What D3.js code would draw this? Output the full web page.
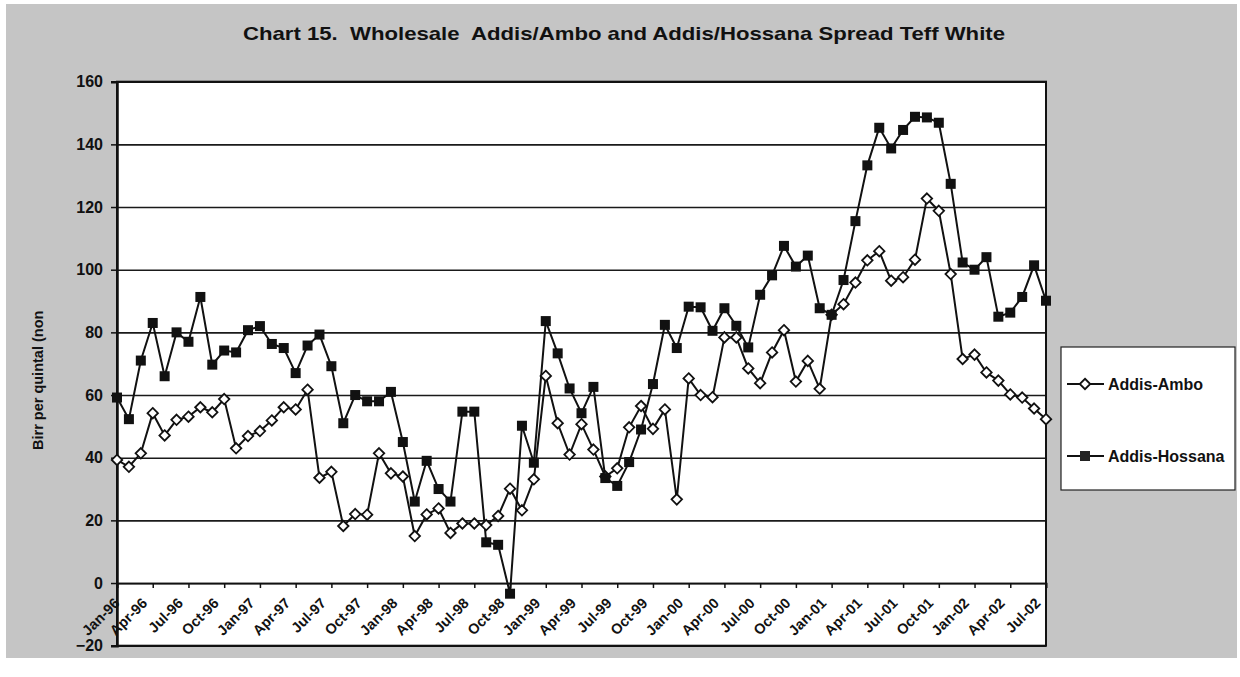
<!DOCTYPE html>
<html>
<head>
<meta charset="utf-8">
<script src="https://cdn.jsdelivr.net/npm/d3@7"></script>
<style>
  html, body { margin: 0; padding: 0; background: #ffffff; }
  svg { display: block; font-family: "Liberation Sans", Arial, sans-serif; }
</style>
</head>
<body>
<svg id="chart" width="1240" height="677"></svg>
<script>
// Monthly spread, Jan-96 .. Jul-02 (Birr per quintal)
const months = d3.utcMonth.range(new Date(Date.UTC(1996, 0, 1)), new Date(Date.UTC(2002, 7, 1)));

const addisAmbo = [
  39.3, 37.1, 41.4, 54.2, 47.1, 52.1, 53.1, 56.1, 54.5, 58.7, 43.0, 46.9,
  48.5, 51.9, 56.1, 55.4, 61.7, 33.6, 35.5, 18.2, 22.0, 21.8, 41.4, 35.0,
  34.0, 15.0, 21.9, 23.8, 16.0, 19.0, 19.0, 18.5, 21.4, 30.1, 23.2, 33.1,
  66.1, 51.0, 41.0, 50.7, 42.6, 34.0, 36.6, 49.7, 56.5, 49.2, 55.4, 26.7,
  65.3, 60.0, 59.3, 78.4, 78.4, 68.5, 63.8, 73.6, 80.7, 64.3, 70.9, 62.0,
  85.6, 89.0, 95.9, 103.0, 105.9, 96.5, 97.6, 103.2, 122.7, 118.8, 98.6, 71.5,
  72.9, 67.2, 64.6, 60.2, 59.2, 55.7, 52.3
];

const addisHossana = [
  59.2, 52.3, 71.0, 83.0, 66.0, 80.0, 77.0, 91.3, 69.7, 74.2, 73.6, 80.7,
  82.0, 76.3, 75.0, 67.0, 75.8, 79.3, 69.2, 51.0, 60.0, 58.0, 58.0, 61.0,
  45.0, 26.0, 39.0, 30.0, 26.0, 54.7, 54.7, 13.0, 12.2, -3.4, 50.2, 38.4,
  83.6, 73.3, 62.1, 54.2, 62.6, 33.5, 31.0, 38.6, 49.0, 63.5, 82.4, 75.0,
  88.2, 88.0, 80.5, 87.7, 82.1, 75.2, 92.0, 98.2, 107.6, 101.0, 104.5, 87.7,
  85.6, 96.7, 115.5, 133.3, 145.3, 138.7, 144.6, 148.8, 148.6, 146.9, 127.4, 102.3,
  100.0, 104.0, 85.0, 86.3, 91.3, 101.4, 90.1
];

const xTickLabels = [
  "Jan-96", "Apr-96", "Jul-96", "Oct-96", "Jan-97", "Apr-97", "Jul-97", "Oct-97",
  "Jan-98", "Apr-98", "Jul-98", "Oct-98", "Jan-99", "Apr-99", "Jul-99", "Oct-99",
  "Jan-00", "Apr-00", "Jul-00", "Oct-00", "Jan-01", "Apr-01", "Jul-01", "Oct-01",
  "Jan-02", "Apr-02", "Jul-02"
];

const yTicks = [-20, 0, 20, 40, 60, 80, 100, 120, 140, 160];

const seriesNames = ["Addis-Ambo", "Addis-Hossana"];

const chartTitle = "Chart 15.  Wholesale  Addis/Ambo and Addis/Hossana Spread Teff White";
const yTitle = "Birr per quintal (non";

// ---- layout ----
const svg = d3.select("#chart");
const plot = { left: 117, right: 1046, top: 81.7, bottom: 645.7 };

// even spacing per month, as on a monthly date axis
const xi = d3.scaleLinear().domain([0, months.length - 1]).range([plot.left, plot.right]);
const y = d3.scaleLinear().domain([-20, 160]).range([plot.bottom, plot.top]);

// outer grey panel
svg.append("rect")
  .attr("x", 6).attr("y", 4).attr("width", 1231).attr("height", 654)
  .attr("fill", "#c5c5c5");

// title
svg.append("text")
  .attr("x", 243).attr("y", 40)
  .attr("text-anchor", "start")
  .attr("font-size", 18.5).attr("font-weight", "bold")
  .attr("textLength", 762).attr("lengthAdjust", "spacingAndGlyphs")
  .style("white-space", "pre")
  .attr("fill", "#111")
  .text(chartTitle);

// plot background
svg.append("rect")
  .attr("x", plot.left).attr("y", plot.top)
  .attr("width", plot.right - plot.left).attr("height", plot.bottom - plot.top)
  .attr("fill", "#ffffff");

// horizontal gridlines
svg.append("g")
  .attr("transform", `translate(${plot.left},0)`)
  .call(d3.axisLeft(y).tickValues(yTicks).tickSize(-(plot.right - plot.left)).tickFormat(""))
  .call(g => g.select(".domain").remove())
  .call(g => g.selectAll("line").attr("stroke", "#1a1a1a").attr("stroke-width", 1.6));

// plot frame
svg.append("rect")
  .attr("x", plot.left).attr("y", plot.top)
  .attr("width", plot.right - plot.left).attr("height", plot.bottom - plot.top)
  .attr("fill", "none").attr("stroke", "#111").attr("stroke-width", 2);

// y axis
const yAxis = svg.append("g")
  .attr("transform", `translate(${plot.left},0)`)
  .call(d3.axisLeft(y).tickValues(yTicks).tickSize(6).tickPadding(8).tickFormat(d3.format("d")));
yAxis.select(".domain").attr("stroke", "#111").attr("stroke-width", 2.5);
yAxis.selectAll("line").attr("stroke", "#111").attr("stroke-width", 1.5);
yAxis.selectAll("text")
  .attr("font-size", 16).attr("font-weight", "bold").attr("fill", "#111")
  .attr("font-family", "'Liberation Sans', Arial, sans-serif");

// x axis on the zero line
const quarterIdx = xTickLabels.map((_, k) => k * 3);
const xAxis = svg.append("g")
  .attr("transform", `translate(0,${y(0)})`)
  .call(d3.axisBottom(xi).tickValues(quarterIdx).tickSize(5).tickFormat((d, k) => xTickLabels[k]));
xAxis.select(".domain").attr("stroke", "#111").attr("stroke-width", 1.8);
xAxis.selectAll("line").attr("stroke", "#111").attr("stroke-width", 1.5);
xAxis.selectAll("text")
  .attr("font-size", 14.5).attr("font-weight", "bold").attr("fill", "#111")
  .attr("font-family", "'Liberation Sans', Arial, sans-serif")
  .attr("text-anchor", "end")
  .attr("dy", null)
  .attr("y", 0)
  .attr("transform", (d, k) => `translate(${k === 0 ? 3 : -5},21) rotate(-45)`);

// y axis title
svg.append("text")
  .attr("transform", "translate(43,450) rotate(-90)")
  .attr("text-anchor", "start")
  .attr("font-size", 14.5).attr("font-weight", "bold").attr("fill", "#111")
  .text(yTitle);

// series lines
const line = d3.line().x((d, i) => xi(i)).y(d => y(d));

svg.append("path")
  .datum(addisAmbo)
  .attr("d", line)
  .attr("fill", "none").attr("stroke", "#111").attr("stroke-width", 2);

svg.append("path")
  .datum(addisHossana)
  .attr("d", line)
  .attr("fill", "none").attr("stroke", "#111").attr("stroke-width", 2);

// markers
const diamond = d3.symbol().type(d3.symbolDiamond2).size(70);
svg.append("g").selectAll("path")
  .data(addisAmbo)
  .join("path")
  .attr("d", diamond)
  .attr("transform", (d, i) => `translate(${xi(i)},${y(d)})`)
  .attr("fill", "#fff").attr("stroke", "#111").attr("stroke-width", 1.8);

svg.append("g").selectAll("rect")
  .data(addisHossana)
  .join("rect")
  .attr("x", (d, i) => xi(i) - 5).attr("y", d => y(d) - 5)
  .attr("width", 10).attr("height", 10)
  .attr("fill", "#111");

// legend
const legend = svg.append("g");
legend.append("rect")
  .attr("x", 1061).attr("y", 347).attr("width", 174).attr("height", 143)
  .attr("fill", "#fff").attr("stroke", "#222").attr("stroke-width", 1.2);

const legendRows = [
  { name: seriesNames[0], yPos: 384, marker: "diamond" },
  { name: seriesNames[1], yPos: 456, marker: "square" }
];
legendRows.forEach(r => {
  legend.append("line")
    .attr("x1", 1067).attr("x2", 1104).attr("y1", r.yPos).attr("y2", r.yPos)
    .attr("stroke", "#111").attr("stroke-width", 2);
  if (r.marker === "diamond") {
    legend.append("path")
      .attr("d", diamond)
      .attr("transform", `translate(1085,${r.yPos})`)
      .attr("fill", "#fff").attr("stroke", "#111").attr("stroke-width", 1.8);
  } else {
    legend.append("rect")
      .attr("x", 1080).attr("y", r.yPos - 5).attr("width", 10).attr("height", 10)
      .attr("fill", "#222");
  }
  legend.append("text")
    .attr("x", 1108).attr("y", r.yPos + 6)
    .attr("font-size", 16).attr("font-weight", "bold").attr("fill", "#111")
    .text(r.name);
});
</script>
</body>
</html>
